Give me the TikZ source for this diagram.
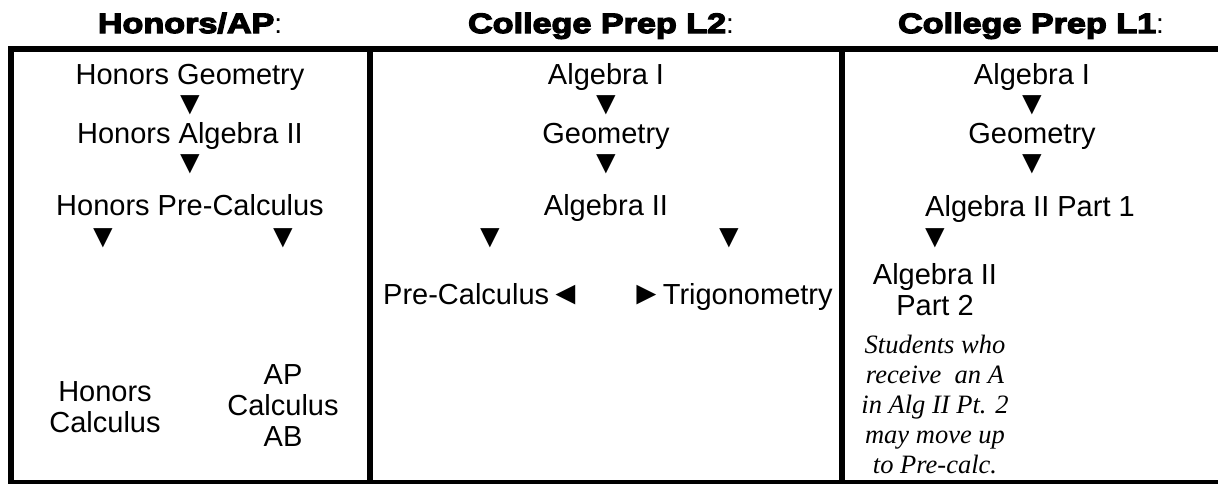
\documentclass[tikz,border=0pt]{standalone}
\usepackage{fontspec}
\setmainfont{Liberation Sans}
\newfontfamily\serifit{Liberation Serif}
\newfontfamily\hdrfont[FakeBold=4.5,FakeStretch=1.22]{Liberation Sans Bold}
\newcommand{\tri}[1]{{\fontsize{33}{33}\selectfont #1}}
\begin{document}
\begin{tikzpicture}[x=1pt,y=-1pt,
  hdr/.style={inner sep=0, anchor=base, font=\fontsize{28}{30}\selectfont},
  txt/.style={inner sep=0, anchor=base, font=\fontsize{29}{32}\selectfont},
  ml/.style={inner sep=0, align=center, font=\fontsize{29}{31}\selectfont},
  arr/.style={inner sep=0, font=\fontsize{33}{33}\selectfont},
  note/.style={inner sep=0, align=center, font=\serifit\itshape\fontsize{26.5}{30}\selectfont},
  rule/.style={line width=6pt}]
\useasboundingbox (0,0) rectangle (1218,483);
% frame
\draw[rule] (8,49) -- (1218,49);
\draw[rule] (11,46) -- (11,483);
\draw[rule] (370,46) -- (370,483);
\draw[rule] (842,46) -- (842,483);
\draw[rule] (8,483) -- (1218,483);
% headers
\node[hdr] (h1) at (190,33) {{\hdrfont Honors/AP}:};
\node[hdr] (h2) at (601,33) {{\hdrfont College Prep L2}:};
\node[hdr] (h3) at (1031,33) {{\hdrfont College Prep L1}:};
% column 1
\node[txt] (hg) at (190,84) {Honors Geometry};
\node[arr] (a1) at (190,105) {▼};
\node[txt] (ha) at (190,143) {Honors Algebra II};
\node[arr] (a2) at (190,164) {▼};
\node[txt] (hp) at (190,215) {Honors Pre-Calculus};
\node[arr] (a3) at (103,238) {▼};
\node[arr] (a4) at (283,238) {▼};
\node[ml] (hc) at (105,407) {Honors\\Calculus};
\node[ml] (ap) at (283,406) {AP\\Calculus\\AB};
% column 2
\node[txt] (b1) at (606,84) {Algebra I};
\node[arr] (b2) at (606,105) {▼};
\node[txt] (b3) at (606,143) {Geometry};
\node[arr] (b4) at (606,164) {▼};
\node[txt] (b5) at (606,215) {Algebra II};
\node[arr] (b6) at (490,238) {▼};
\node[arr] (b7) at (729,238) {▼};
\node[txt, anchor=base west] (b8) at (383,304) {Pre-Calculus\tri{◄}};
\node[txt, anchor=base west] (b9) at (630,304) {\tri{►}Trigonometry};
% column 3
\node[txt] (c1) at (1032,84) {Algebra I};
\node[arr] (c2) at (1032,105) {▼};
\node[txt] (c3) at (1032,143) {Geometry};
\node[arr] (c4) at (1032,164) {▼};
\node[txt] (c5) at (1030,216) {Algebra II Part 1};
\node[arr] (c6) at (935,238) {▼};
\node[ml] (c7) at (935,290) {Algebra II\\Part 2};
\node[note] (c8) at (935,404) {Students who\\receive\ \ an A\\in Alg II Pt. 2\\may move up\\to Pre-calc.};
\end{tikzpicture}
\end{document}
